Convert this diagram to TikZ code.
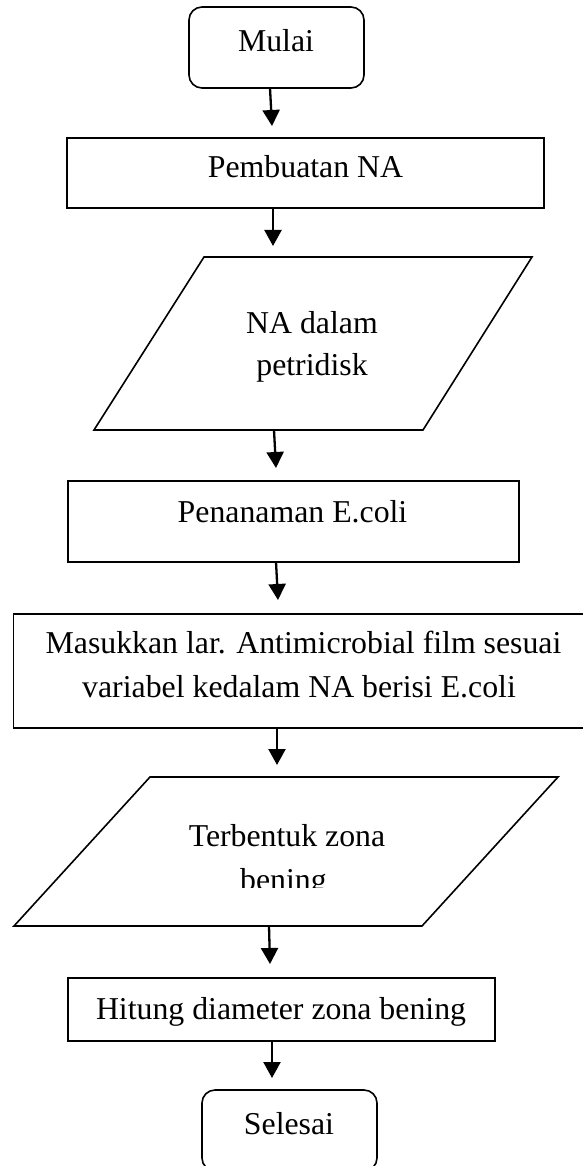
\documentclass[tikz,border=0pt]{standalone}
\usepackage{fontspec}
\setmainfont{Liberation Serif}
\usetikzlibrary{arrows.meta}
\begin{document}
\begin{tikzpicture}[x=1pt,y=-1pt,
  boxline/.style={draw=black,line width=1.6pt,inner sep=0pt,outer sep=0pt},
  procbox/.style={boxline,rectangle},
  termbox/.style={boxline,rectangle,rounded corners=13pt},
  lbl/.style={anchor=base,inner sep=0pt,font=\fontsize{31.8}{42}\selectfont},
  arr/.style={line width=2.3pt,-{Triangle[length=16pt,width=17pt]}}]
\useasboundingbox (0,0) rectangle (583,1166);
\fill[white] (0,0) rectangle (583,1166);
% shapes
\node[termbox,minimum width=175pt,minimum height=81pt] (mulai) at (276.5,47.5) {};
\node[procbox,minimum width=477pt,minimum height=70pt] (pembuatan) at (305.5,173) {};
\coordinate (p1a) at (204,257); \coordinate (p1b) at (532,257);
\coordinate (p1c) at (423,430); \coordinate (p1d) at (94,430);
\draw[line width=1.6pt,line join=miter] (p1a) -- (p1b) -- (p1c) -- (p1d) -- cycle;
\node[procbox,minimum width=451pt,minimum height=81pt] (penanaman) at (293.5,521.5) {};
\node[procbox,minimum width=577pt,minimum height=114pt] (masukkan) at (302,671) {};
\coordinate (p2a) at (150,777); \coordinate (p2b) at (558,777);
\coordinate (p2c) at (422,926); \coordinate (p2d) at (14,926);
\draw[line width=1.6pt,line join=miter] (p2a) -- (p2b) -- (p2c) -- (p2d) -- cycle;
\node[procbox,minimum width=427pt,minimum height=63pt] (hitung) at (281.5,1009.5) {};
\node[termbox,minimum width=175pt,minimum height=81pt] (selesai) at (289.5,1130.5) {};
% texts
\node[lbl] (tmulai) at (276,52) {Mulai};
\node[lbl] (tpemb) at (305.5,178) {Pembuatan NA};
\node[lbl] (tna1) at (312,333) {NA dalam};
\node[lbl] (tna2) at (312,375) {petridisk};
\node[lbl] (tpen) at (292.5,522) {Penanaman E.coli};
\node[lbl] (tmas1) at (303.5,653) {Masukkan lar. Antimicrobial film sesuai};
\node[lbl] (tmas2) at (299,697) {variabel kedalam NA berisi E.coli};
\node[lbl] (tter1) at (287,846) {Terbentuk zona};
\begin{scope}
\clip (0,0) rectangle (583,887);
\node[lbl] (tter2) at (283.5,890) {bening};
\end{scope}
\node[lbl] (thit) at (281,1019) {Hitung diameter zona bening};
\node[lbl] (tsel) at (289,1134) {Selesai};
% connectors
\coordinate (e1) at (272,126);
\coordinate (e2) at (273,246);
\coordinate (s3) at (274,430);
\coordinate (e3) at (276,468);
\coordinate (e4) at (278,600);
\coordinate (e5) at (277,765);
\coordinate (s6) at (269,926);
\coordinate (e6) at (270,964);
\coordinate (e7) at (272,1078);
\draw[arr] (mulai.south -| 270,0) -- (e1);
\draw[arr] (pembuatan.south -| 273,0) -- (e2);
\draw[arr] (s3) -- (e3);
\draw[arr] (penanaman.south -| 276,0) -- (e4);
\draw[arr] (masukkan.south -| 277,0) -- (e5);
\draw[arr] (s6) -- (e6);
\draw[arr] (hitung.south -| 272,0) -- (e7);
\end{tikzpicture}
\end{document}
